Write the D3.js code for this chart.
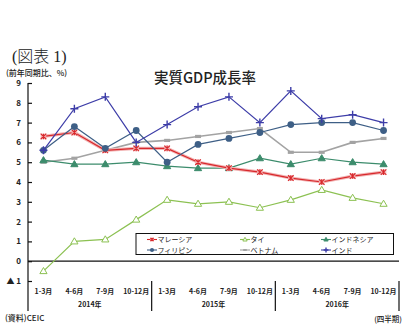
<!DOCTYPE html>
<html>
<head>
<meta charset="utf-8">
<script src="https://cdn.jsdelivr.net/npm/d3@7"></script>
<style>
  body { margin: 0; background: #fff; }
  svg { display: block; }
  text { font-family: "Noto Sans CJK JP", "Noto Sans", sans-serif; fill: #222; }
</style>
</head>
<body>
<svg id="chart" width="413" height="331"></svg>
<script>
// quarters and years along the bottom
const quarters = ["1-3月", "4-6月", "7-9月", "10-12月"];
const years = ["2014年", "2015年", "2016年"];
const yTicks = [-1, 0, 1, 2, 3, 4, 5, 6, 7, 8, 9];

// real GDP growth, y/y %, 2014Q1 - 2016Q4
const malaysia    = [6.3, 6.5, 5.6, 5.7, 5.7, 5.0, 4.7, 4.5, 4.2, 4.0, 4.3, 4.5];
const thailand    = [-0.5, 1.0, 1.1, 2.1, 3.1, 2.9, 3.0, 2.7, 3.1, 3.6, 3.2, 2.9];
const indonesia   = [5.1, 4.9, 4.9, 5.0, 4.8, 4.7, 4.7, 5.2, 4.9, 5.2, 5.0, 4.9];
const philippines = [5.6, 6.8, 5.7, 6.6, 5.0, 5.9, 6.2, 6.5, 6.9, 7.0, 7.0, 6.6];
const vietnam     = [5.0, 5.2, 5.6, 6.0, 6.1, 6.3, 6.5, 6.7, 5.5, 5.5, 6.0, 6.2];
const india       = [5.6, 7.7, 8.3, 6.0, 6.9, 7.8, 8.3, 7.0, 8.6, 7.2, 7.4, 7.0];

const series = [
  { name: "マレーシア", values: malaysia, color: "#d8282c", marker: "xbox" },
  { name: "タイ", values: thailand, color: "#8cc152", marker: "opentri" },
  { name: "インドネシア", values: indonesia, color: "#3c8c6c", marker: "tri" },
  { name: "フィリピン", values: philippines, color: "#3e5f86", marker: "circle" },
  { name: "ベトナム", values: vietnam, color: "#a3a3a3", marker: "dash" },
  { name: "インド", values: india, color: "#3d3da8", marker: "plus" }
];

const svg = d3.select("#chart");
const plotL = 28, plotR = 399, plotT = 83, plotB = 281, axisEnd = 311;

const slots = d3.range(years.length * quarters.length);
const x = d3.scaleBand().domain(slots).range([plotL, plotR]).padding(0);
const cx = i => x(i) + x.bandwidth() / 2;
const y = d3.scaleLinear().domain([-1, 9]).range([plotB, plotT]);

// headings
svg.append("text").attr("x", 12).attr("y", 62)
  .style("font-family", "'Liberation Serif', 'Noto Sans CJK JP', serif")
  .style("font-size", "16px").style("font-weight", 300)
  .text("(図表 1)");
svg.append("text").attr("x", 6).attr("y", 75.5)
  .style("font-size", "8px").style("font-weight", 500)
  .text("(前年同期比、%)");
svg.append("text").attr("x", 205).attr("y", 82.5).attr("text-anchor", "middle")
  .style("font-size", "14.5px").style("font-weight", 500)
  .text("実質GDP成長率");

// y axis: line from the top tick down through the category rows
svg.append("line").attr("x1", plotL).attr("x2", plotL)
  .attr("y1", plotT).attr("y2", axisEnd).attr("stroke", "#111").attr("stroke-width", 1.2);
const yAxis = d3.axisRight(y).tickValues(yTicks).tickSize(4).tickFormat("");
const yg = svg.append("g").attr("transform", `translate(${plotL},0)`).call(yAxis);
yg.select(".domain").remove();
yg.selectAll("line").attr("stroke", "#111").attr("stroke-width", 1.2);

svg.selectAll(".ylab").data(yTicks).enter().append("text")
  .attr("class", "ylab")
  .attr("x", 21).attr("y", d => y(d) + 3)
  .attr("text-anchor", "end")
  .style("font-size", "8px").style("font-weight", 700)
  .text(d => d < 0 ? "▲ " + Math.abs(d) : d);

// zero line
svg.append("line").attr("x1", plotL).attr("x2", plotR)
  .attr("y1", y(0)).attr("y2", y(0)).attr("stroke", "#111").attr("stroke-width", 1.3);

// year separators and labels
years.forEach((yr, k) => {
  const xe = x((k + 1) * quarters.length - 1) + x.bandwidth();
  svg.append("line").attr("x1", xe).attr("x2", xe)
    .attr("y1", plotB).attr("y2", axisEnd).attr("stroke", "#111").attr("stroke-width", 1.2);
  const xm = (x(k * quarters.length) + xe) / 2;
  svg.append("text").attr("x", xm).attr("y", 307).attr("text-anchor", "middle")
    .style("font-size", "7px").style("font-weight", 700).text(yr);
});

svg.selectAll(".qlab").data(slots).enter().append("text")
  .attr("class", "qlab")
  .attr("x", d => cx(d)).attr("y", 294).attr("text-anchor", "middle")
  .style("font-size", "7px").style("font-weight", 700)
  .text(d => quarters[d % quarters.length]);

// marker shapes
function drawMarker(g, kind, color, px, py, s) {
  s = s || 1;
  if (kind === "circle") {
    g.append("circle").attr("cx", px).attr("cy", py).attr("r", 3.4 * s).attr("fill", color);
  } else if (kind === "tri" || kind === "opentri") {
    const r = 3.6 * s;
    g.append("path")
      .attr("d", `M${px},${py - r}L${px + r},${py + r * 0.7}L${px - r},${py + r * 0.7}Z`)
      .attr("fill", kind === "tri" ? color : "#fff")
      .attr("stroke", color).attr("stroke-width", 1);
  } else if (kind === "plus") {
    const r = 4 * s;
    g.append("path").attr("d", `M${px - r},${py}H${px + r}M${px},${py - r}V${py + r}`)
      .attr("stroke", color).attr("stroke-width", 1.4);
  } else if (kind === "xbox") {
    const r = 2.8 * s;
    g.append("rect").attr("x", px - r).attr("y", py - r).attr("width", 2 * r).attr("height", 2 * r)
      .attr("fill", "#f4b6b6").attr("opacity", 0.9);
    g.append("path").attr("d", `M${px - r},${py - r}L${px + r},${py + r}M${px + r},${py - r}L${px - r},${py + r}M${px},${py - r}V${py + r}`)
      .attr("stroke", color).attr("stroke-width", 1.1);
  } else if (kind === "dash") {
    g.append("rect").attr("x", px - 3 * s).attr("y", py - 1.6 * s)
      .attr("width", 6 * s).attr("height", 3.2 * s).attr("fill", color);
  }
}

const line = d3.line().x((d, i) => cx(i)).y(d => y(d));

// draw in back-to-front order
const order = ["ベトナム", "タイ", "インドネシア", "マレーシア", "フィリピン", "インド"];
order.forEach(nm => {
  const s = series.find(d => d.name === nm);
  const g = svg.append("g");
  if (s.marker === "xbox") {
    g.append("path").datum(s.values).attr("d", line)
      .attr("fill", "none").attr("stroke", "#f2b4b4").attr("stroke-width", 3.2);
  }
  g.append("path").datum(s.values).attr("d", line)
    .attr("fill", "none").attr("stroke", s.color)
    .attr("stroke-width", s.marker === "dash" ? 1.6 : 1.2);
  s.values.forEach((v, i) => drawMarker(g, s.marker, s.color, cx(i), y(v)));
});

// legend
svg.append("rect").attr("x", 136).attr("y", 233.5).attr("width", 257.5).attr("height", 21)
  .attr("fill", "#fff").attr("stroke", "#111").attr("stroke-width", 1);
const legCols = [147, 240, 321];
series.forEach((s, k) => {
  const lx = legCols[k % 3], ly = k < 3 ? 239.5 : 250;
  const g = svg.append("g");
  g.append("line").attr("x1", lx).attr("x2", lx + 10).attr("y1", ly).attr("y2", ly)
    .attr("stroke", s.color).attr("stroke-width", 1.1);
  drawMarker(g, s.marker, s.color, lx + 5, ly, 0.6);
  g.append("text").attr("x", lx + 10.5).attr("y", ly + 2.5)
    .style("font-size", "7px").text(s.name);
});

// footer
svg.append("text").attr("x", 5).attr("y", 321)
  .style("font-size", "8px").style("font-weight", 500).text("(資料)CEIC");
svg.append("text").attr("x", 402).attr("y", 322).attr("text-anchor", "end")
  .style("font-size", "7.5px").style("font-weight", 500).text("(四半期)");
</script>
</body>
</html>
